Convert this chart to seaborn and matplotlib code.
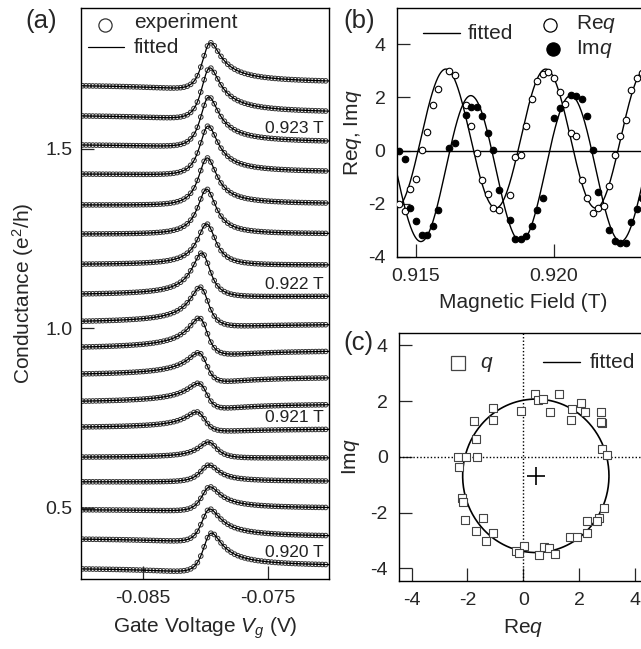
import numpy as np
import pandas as pd
import matplotlib
matplotlib.use("Agg")
import matplotlib.pyplot as plt
import seaborn as sns

# ---------------- panel (b): Fano parameter q versus magnetic field ----------------
field_re = [0.9144, 0.9146, 0.9148, 0.9150, 0.9152, 0.9154, 0.9156, 0.9158, 0.9162, 0.9164,
            0.9168, 0.9170, 0.9172, 0.9174, 0.9176, 0.9178, 0.9180, 0.9184, 0.9186, 0.9188,
            0.9190, 0.9192, 0.9194, 0.9196, 0.9198, 0.9200, 0.9202, 0.9204, 0.9206, 0.9208,
            0.9210, 0.9212, 0.9214, 0.9216, 0.9218, 0.9220, 0.9222, 0.9224, 0.9226, 0.9228,
            0.9230, 0.9232]
req = [-2.00, -2.29, -1.45, -1.09, 0.02, 0.70, 1.71, 2.31, 3.01, 2.83,
       1.72, 0.94, -0.08, -1.10, -1.65, -2.15, -2.24, -1.69, -0.26, -0.17,
       0.94, 1.94, 2.63, 2.89, 2.97, 2.73, 2.22, 1.74, 0.66, 0.53,
       -1.12, -1.79, -2.34, -2.15, -2.08, -1.33, -0.15, 0.56, 1.14, 2.27,
       2.72, 2.91]

field_im = [0.9144, 0.9146, 0.9148, 0.9150, 0.9152, 0.9154, 0.9156, 0.9158, 0.9162, 0.9164,
            0.9168, 0.9170, 0.9172, 0.9174, 0.9176, 0.9178, 0.9180, 0.9184, 0.9186, 0.9188,
            0.9190, 0.9192, 0.9194, 0.9196, 0.9200, 0.9202, 0.9206, 0.9208, 0.9210, 0.9212,
            0.9214, 0.9216, 0.9220, 0.9222, 0.9224, 0.9226, 0.9228, 0.9230, 0.9232]
imq = [0.00, -0.33, -2.15, -2.65, -3.18, -3.18, -2.84, -2.25, 0.10, 0.29,
       1.33, 1.63, 1.64, 1.31, 0.66, 0.01, -1.48, -2.60, -3.34, -3.34,
       -3.21, -2.86, -2.25, -1.80, 1.23, 1.61, 2.08, 2.07, 1.95, 1.32,
       0.01, -1.57, -2.99, -3.42, -3.48, -3.48, -2.71, -2.19, -1.78]

# ---------------- panel (c): q in the complex plane ----------------
q_re = [0.43, 0.52, 0.69, 1.29, -0.08, 0.96, 2.08, 1.76, 2.21, 1.71,
        2.77, 2.81, 2.78, -1.10, -1.77, -1.10, -1.69, -2.35, -2.05, -1.64,
        -2.30, 2.83, 3.01, -2.21, -2.14, -2.07, -1.68, -1.43, -1.10, -1.33,
        2.88, 2.71, 2.63, 2.30, 2.27, 1.69, 1.93, 0.01, -0.27, -0.15,
        0.57, 0.73, 0.94, 1.13]
q_im = [2.24, 2.02, 2.06, 2.24, 1.64, 1.62, 1.93, 1.71, 1.62, 1.32,
        1.59, 1.22, 1.26, 1.76, 1.29, 1.31, 0.65, 0.01, -0.01, -0.01,
        -0.37, 0.28, 0.06, -1.49, -1.63, -2.25, -2.65, -2.19, -2.72, -3.03,
        -1.83, -2.20, -2.29, -2.30, -2.73, -2.86, -2.89, -3.20, -3.37, -3.45,
        -3.51, -3.22, -3.28, -3.48]

# fitted oscillation of q with field
REQ_CENTER, REQ_AMP = 0.45, 2.62
IMQ_CENTER, IMQ_AMP = -0.68, 2.75
PERIOD_T = 0.00362
B_REQ_MAX = 0.9197

# ---------------- panel (a): conductance versus gate voltage ----------------
sweep_field = [0.9200, 0.9202, 0.9204, 0.9206, 0.9208, 0.9210, 0.9212, 0.9214, 0.9216,
               0.9218, 0.9220, 0.9222, 0.9224, 0.9226, 0.9228, 0.9230, 0.9232, 0.9234]
baseline_g = [0.329, 0.412, 0.494, 0.572, 0.641, 0.725, 0.797, 0.873, 0.948,
              1.020, 1.096, 1.179, 1.263, 1.344, 1.430, 1.511, 1.592, 1.676]
peak_height = [0.100, 0.084, 0.064, 0.047, 0.042, 0.042, 0.050, 0.059, 0.081,
               0.095, 0.114, 0.112, 0.125, 0.131, 0.134, 0.134, 0.134, 0.120]
peak_gate = [-0.07953, -0.07966, -0.07966, -0.07974, -0.07980, -0.08073, -0.08060, -0.08060,
             -0.08054, -0.08046, -0.08033, -0.07993, -0.07993, -0.07988, -0.07980, -0.07974,
             -0.07966, -0.07961]
HALF_WIDTH = 0.0009
field_labels = {0: "0.920 T", 5: "0.921 T", 10: "0.922 T", 15: "0.923 T"}

a_xlim = (-0.08998, -0.07014)
a_ylim = (0.301, 1.893)
a_xticks = [-0.085, -0.075]
a_xticklabels = ["-0.085", "-0.075"]
a_yticks = [0.5, 1.0, 1.5]
a_yticklabels = ["0.5", "1.0", "1.5"]
b_xlim = (0.91430, 0.92350)
b_ylim = (-4.0, 5.36)
b_xticks = [0.915, 0.920]
b_xticklabels = ["0.915", "0.920"]
qticks = [-4, -2, 0, 2, 4]
qticklabels = ["-4", "-2", "0", "2", "4"]
c_lim = (-4.45, 4.45)


def q_fit(b):
    th = 2 * np.pi * (np.asarray(b) - B_REQ_MAX) / PERIOD_T
    return (REQ_CENTER + REQ_AMP * np.cos(th)) + 1j * (IMQ_CENTER + IMQ_AMP * np.sin(th))


def fano(eps, q):
    return np.abs(eps + q) ** 2 / (eps ** 2 + 1.0)


# ---------------- styling ----------------
sns.set_theme(style="ticks")
plt.rcParams["font.family"] = ["Liberation Sans", "DejaVu Sans"]
plt.rcParams["mathtext.fontset"] = "custom"
plt.rcParams["mathtext.rm"] = "Liberation Sans"
plt.rcParams["mathtext.it"] = "Liberation Sans:italic"
plt.rcParams["axes.linewidth"] = 1.0
plt.rcParams["axes.edgecolor"] = "black"

W, H = 641, 649
fig = plt.figure(figsize=(W / 100, H / 100), dpi=100)


def px_axes(x0, x1, ytop, ybot):
    return fig.add_axes([x0 / W, 1 - ybot / H, (x1 - x0) / W, (ybot - ytop) / H])


ax_a = px_axes(81, 329, 8, 579)
ax_b = px_axes(396.7, 650.6, 8.3, 256.7)
ax_c = px_axes(399, 647.5, 332.7, 581)

TICK_LEN, TICK_W = 9.4, 0.9
LABEL_FS, TICK_FS, LEG_FS = 15, 14, 15
edge_grey = "#333333"

# ---------------- panel (a) ----------------
v_line = np.linspace(a_xlim[0], a_xlim[1], 700)
v_pts = np.arange(-0.08985, -0.07015, 0.00027)
v_left = -0.0896
eps_dense = np.linspace(-8, 8, 4001)

fit_rows, pt_rows, label_pos = [], [], {}
for k, bf in enumerate(sweep_field):
    q = complex(q_fit(bf))
    s_dense = fano(eps_dense, q)
    eps_pk = eps_dense[np.argmax(s_dense)]
    v0 = peak_gate[k] - eps_pk * HALF_WIDTH
    s_left = fano((v_left - v0) / HALF_WIDTH, q)
    amp = peak_height[k] / (s_dense.max() - s_left)
    offset = baseline_g[k] - amp * s_left
    g_line = offset + amp * fano((v_line - v0) / HALF_WIDTH, q)
    g_pts = offset + amp * fano((v_pts - v0) / HALF_WIDTH, q)
    fit_rows.append(pd.DataFrame({"vg": v_line, "g": g_line, "curve": k}))
    pt_rows.append(pd.DataFrame({"vg": v_pts, "g": g_pts, "curve": k}))
    if k in field_labels:
        label_pos[k] = offset + amp * fano((-0.0705 - v0) / HALF_WIDTH, q)

df_fit = pd.concat(fit_rows, ignore_index=True)
df_pts = pd.concat(pt_rows, ignore_index=True)

sns.scatterplot(data=df_pts, x="vg", y="g", ax=ax_a, marker="o", s=11,
                color=edge_grey, linewidth=0.7, legend=False, zorder=2)
ax_a.collections[-1].set_facecolor("none")
ax_a.collections[-1].set_edgecolor(edge_grey)
sns.lineplot(data=df_fit, x="vg", y="g", units="curve", estimator=None, ax=ax_a,
             color="black", linewidth=0.9, legend=False, zorder=3)

for k, txt in field_labels.items():
    ax_a.text(-0.0706, label_pos[k] + 0.021, txt, ha="right", va="baseline",
              fontsize=12.5, color="#222222")

ax_a.set_xlim(*a_xlim)
ax_a.set_ylim(*a_ylim)
ax_a.set_xticks(a_xticks)
ax_a.set_xticklabels(a_xticklabels)
ax_a.set_yticks(a_yticks)
ax_a.set_yticklabels(a_yticklabels)
ax_a.tick_params(direction="in", length=TICK_LEN, width=TICK_W, labelsize=TICK_FS, pad=8)
ax_a.tick_params(axis="y", pad=6)
ax_a.set_xlabel("Gate Voltage $V_g$ (V)", fontsize=LABEL_FS, labelpad=6)
ax_a.set_ylabel("Conductance (e$^2$/h)", fontsize=LABEL_FS, labelpad=7)

# legend of panel (a)
ax_a.plot([0.0968], [0.9710], transform=ax_a.transAxes, marker="o", ms=9.5,
          mfc="none", mec=edge_grey, mew=0.9, ls="none", clip_on=False)
ax_a.text(0.2137, 0.9644, "experiment", transform=ax_a.transAxes, fontsize=LEG_FS,
          va="baseline", ha="left")
ax_a.plot([0.0282, 0.1734], [0.9322, 0.9322], transform=ax_a.transAxes, color="black",
          lw=0.9, clip_on=False)
ax_a.text(0.2137, 0.9207, "fitted", transform=ax_a.transAxes, fontsize=LEG_FS,
          va="baseline", ha="left")

# ---------------- panel (b) ----------------
b_dense = np.linspace(b_xlim[0], b_xlim[1], 900)
qd = q_fit(b_dense)
df_bfit = pd.DataFrame({"B": np.concatenate([b_dense, b_dense]),
                        "val": np.concatenate([qd.real, qd.imag]),
                        "part": ["re"] * len(b_dense) + ["im"] * len(b_dense)})
ax_b.axhline(0, color="black", lw=1.0, zorder=1)
sns.lineplot(data=df_bfit, x="B", y="val", units="part", estimator=None, ax=ax_b,
             color="black", linewidth=1.0, legend=False, zorder=2)
sns.scatterplot(x=field_re, y=req, ax=ax_b, marker="o", s=22, color="white",
                edgecolor="black", linewidth=0.8, legend=False, zorder=4)
sns.scatterplot(x=field_im, y=imq, ax=ax_b, marker="o", s=22, color="black",
                edgecolor="black", linewidth=0.8, legend=False, zorder=4)

ax_b.set_xlim(*b_xlim)
ax_b.set_ylim(*b_ylim)
ax_b.set_xticks(b_xticks)
ax_b.set_xticklabels(b_xticklabels)
ax_b.set_yticks(qticks)
ax_b.set_yticklabels(qticklabels)
ax_b.tick_params(direction="in", length=TICK_LEN, width=TICK_W, labelsize=TICK_FS, pad=8)
ax_b.set_xlabel("Magnetic Field (T)", fontsize=LABEL_FS, labelpad=6)
ax_b.set_ylabel("Re$q$, Im$q$", fontsize=LABEL_FS, labelpad=3)

ax_b.plot([0.1024, 0.2493], [0.8994, 0.8994], transform=ax_b.transAxes, color="black",
          lw=1.0, clip_on=False)
ax_b.text(0.2796, 0.8764, "fitted", transform=ax_b.transAxes, fontsize=LEG_FS,
          va="baseline", ha="left")
ax_b.plot([0.6038], [0.9328], transform=ax_b.transAxes, marker="o", ms=9.5,
          mfc="white", mec="black", mew=0.9, ls="none", clip_on=False)
ax_b.text(0.7062, 0.9155, "Re$q$", transform=ax_b.transAxes, fontsize=LEG_FS,
          va="baseline", ha="left")
ax_b.plot([0.6144], [0.8350], transform=ax_b.transAxes, marker="o", ms=9.5,
          mfc="black", mec="black", mew=0.9, ls="none", clip_on=False)
ax_b.text(0.7062, 0.8148, "Im$q$", transform=ax_b.transAxes, fontsize=LEG_FS,
          va="baseline", ha="left")

# ---------------- panel (c) ----------------
b_cycle = np.linspace(B_REQ_MAX, B_REQ_MAX + PERIOD_T, 400)
qc = q_fit(b_cycle)
ax_c.axhline(0, color="black", lw=1.0, ls=(0, (1, 1.5)), zorder=1)
ax_c.axvline(0, color="black", lw=1.0, ls=(0, (1, 1.5)), zorder=1)
sns.lineplot(x=qc.real, y=qc.imag, sort=False, ax=ax_c, color="black",
             linewidth=1.2, legend=False, zorder=2)
ax_c.plot([REQ_CENTER], [IMQ_CENTER], marker="+", ms=13, mew=1.2, color="black", zorder=3)
sns.scatterplot(x=q_re, y=q_im, ax=ax_c, marker="s", s=30, color="white",
                edgecolor="#444444", linewidth=0.8, legend=False, zorder=4)

ax_c.set_xlim(*c_lim)
ax_c.set_ylim(*c_lim)
ax_c.set_xticks(qticks)
ax_c.set_yticks(qticks)
ax_c.set_xticklabels(qticklabels)
ax_c.set_yticklabels(qticklabels)
ax_c.tick_params(direction="in", length=TICK_LEN, width=TICK_W, labelsize=TICK_FS, pad=8)
ax_c.set_xlabel("Re$q$", fontsize=LABEL_FS, labelpad=6)
ax_c.set_ylabel("Im$q$", fontsize=LABEL_FS, labelpad=6)

ax_c.plot([0.2386], [0.8792], transform=ax_c.transAxes, marker="s", ms=9.5,
          mfc="white", mec="#444444", mew=0.9, ls="none", clip_on=False)
ax_c.text(0.326, 0.8566, "$q$", transform=ax_c.transAxes, fontsize=LEG_FS,
          va="baseline", ha="left")
ax_c.plot([0.578, 0.7284], [0.8808, 0.8808], transform=ax_c.transAxes, color="black",
          lw=1.0, clip_on=False)
ax_c.text(0.7658, 0.8566, "fitted", transform=ax_c.transAxes, fontsize=LEG_FS,
          va="baseline", ha="left")

# panel letters
fig.text(25 / W, 1 - 28.3 / H, "(a)", fontsize=18.5, va="baseline", ha="left")
fig.text(343.3 / W, 1 - 28.3 / H, "(b)", fontsize=18.5, va="baseline", ha="left")
fig.text(343.3 / W, 1 - 350 / H, "(c)", fontsize=18.5, va="baseline", ha="left")

fig.savefig("out.png", dpi=100)
